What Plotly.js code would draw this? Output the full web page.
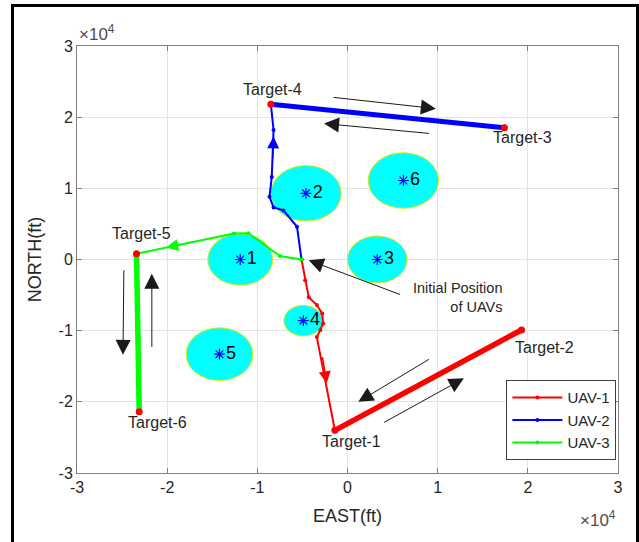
<!DOCTYPE html>
<html>
<head>
<meta charset="utf-8">
<script src="https://cdn.plot.ly/plotly-3.0.1.min.js"></script>
<style>
  html, body { margin: 0; padding: 0; background: #fff; overflow: hidden; }
  #chart { width: 639px; height: 542px; }
  #frame { position: absolute; left: 11px; top: 4px; width: 628px; height: 620px;
           box-sizing: border-box; border: 3px solid #000; pointer-events: none; }
</style>
</head>
<body>
<div id="chart"></div>
<div id="frame"></div>
<script>
// ---- data (units of 10^4 ft) ----
const obstacleLabels = ['1', '2', '3', '4', '5', '6'];
const obstacleX = [-1.19, -0.46, 0.33, -0.49, -1.42, 0.62];
const obstacleY = [0.00, 0.93, 0.00, -0.86, -1.33, 1.11];
const obstacleR = [0.36, 0.39, 0.33, 0.215, 0.37, 0.39];

const targetNames = ['Target-1', 'Target-2', 'Target-3', 'Target-4', 'Target-5', 'Target-6'];
const targetX = [-0.14, 1.93, 1.74, -0.85, -2.34, -2.31];
const targetY = [-2.40, -0.99, 1.85, 2.18, 0.08, -2.14];

// UAV-1 path: start -> Target-1, then Target-1 <-> Target-2
const uav1X = [-0.51, -0.47, -0.43, -0.34, -0.28, -0.27, -0.30, -0.34, -0.14];
const uav1Y = [0.00, -0.29, -0.53, -0.64, -0.76, -0.90, -0.99, -1.09, -2.40];
const uav1TourX = [-0.14, 1.93];
const uav1TourY = [-2.40, -0.99];

// UAV-2 path: start -> Target-4, then Target-4 <-> Target-3
const uav2X = [-0.51, -0.56, -0.71, -0.82, -0.865, -0.84, -0.82, -0.85];
const uav2Y = [0.00, 0.46, 0.69, 0.73, 0.88, 1.16, 1.82, 2.18];
const uav2TourX = [-0.85, 1.74];
const uav2TourY = [2.18, 1.85];

// UAV-3 path: start -> Target-5, then Target-5 <-> Target-6
const uav3X = [-0.51, -0.75, -1.10, -1.26, -2.34];
const uav3Y = [0.00, 0.05, 0.37, 0.365, 0.08];
const uav3TourX = [-2.34, -2.31];
const uav3TourY = [0.08, -2.14];

const tickVals = [-3, -2, -1, 0, 1, 2, 3];

// ---- styles ----
const RED = '#ff0000', BLUE = '#0000ff', GREEN = '#00ff00';
const FONT = 'Liberation Sans, Arial, Helvetica, sans-serif';
const TXT = '#262626';

const traces = [];
function uav(name, color, px, py, tx, ty, tw) {
  traces.push({
    x: px, y: py, type: 'scatter', mode: 'lines+markers', name: name,
    legendgroup: name, line: { color: color, width: 2 },
    marker: { color: color, size: 4 }
  });
  traces.push({
    x: tx, y: ty, type: 'scatter', mode: 'lines+markers', name: name,
    legendgroup: name, showlegend: false,
    line: { color: color, width: tw }, marker: { color: color, size: 6 }
  });
}
uav('UAV-1', RED, uav1X, uav1Y, uav1TourX, uav1TourY, 5.5);
uav('UAV-2', BLUE, uav2X, uav2Y, uav2TourX, uav2TourY, 5);
uav('UAV-3', GREEN, uav3X, uav3Y, uav3TourX, uav3TourY, 5.5);

// obstacle centers + labels
traces.push({
  x: obstacleX, y: obstacleY, type: 'scatter', mode: 'markers+text',
  text: obstacleLabels, textposition: 'middle right', showlegend: false,
  marker: { symbol: 'asterisk-open', color: BLUE, size: 9, line: { color: BLUE, width: 1.2 } },
  textfont: { family: FONT, size: 18, color: '#000' }, hoverinfo: 'skip'
});
// target points
traces.push({
  x: targetX, y: targetY, type: 'scatter', mode: 'markers', showlegend: false,
  marker: { color: RED, size: 7 }, hoverinfo: 'skip'
});

// obstacle circles
const shapes = obstacleX.map((cx, i) => ({
  type: 'circle', xref: 'x', yref: 'y', layer: 'between',
  x0: cx - obstacleR[i], x1: cx + obstacleR[i],
  y0: obstacleY[i] - obstacleR[i], y1: obstacleY[i] + obstacleR[i],
  fillcolor: '#00ffff', line: { color: '#e6e600', width: 1 }
}));

// target label offsets (px)
const labelShift = [[17, -11], [23, -18], [18, -10], [2, 15], [5, 20], [18, -11]];
const annotations = targetNames.map((t, i) => ({
  x: targetX[i], y: targetY[i], xref: 'x', yref: 'y', text: t, showarrow: false,
  xshift: labelShift[i][0], yshift: labelShift[i][1],
  font: { family: FONT, size: 16, color: TXT }
}));

// direction arrows
function arrow(x0, y0, x1, y1, color, size, width, head) {
  annotations.push({
    x: x1, y: y1, ax: x0, ay: y0, xref: 'x', yref: 'y', axref: 'x', ayref: 'y',
    text: '', showarrow: true, arrowhead: head, arrowsize: size, arrowwidth: width,
    arrowcolor: color
  });
}
const AC = '#1a1a1a';
arrow(-0.17, 2.28, 0.98, 2.12, AC, 3, 1, 2);
arrow(0.92, 1.77, -0.26, 1.91, AC, 3, 1, 2);
arrow(0.92, -1.39, 0.12, -2.00, AC, 3, 1, 2);
arrow(0.39, -2.30, 1.29, -1.67, AC, 3, 1, 2);
arrow(-2.48, -0.13, -2.49, -1.34, AC, 3, 1, 2);
arrow(-2.17, -1.25, -2.17, -0.20, AC, 3, 1, 2);
arrow(0.60, -0.50, -0.43, -0.01, AC, 3, 1, 2);
// path direction arrowheads
arrow(-0.28, -1.35, -0.23, -1.74, RED, 1.6, 1.5, 2);
arrow(-0.83, 1.40, -0.82, 1.73, BLUE, 1.6, 1.5, 2);
arrow(-1.70, 0.25, -2.01, 0.167, GREEN, 1.6, 1.5, 2);

annotations.push({
  x: 1.74, y: -0.53, xref: 'x', yref: 'y', xanchor: 'right', align: 'right',
  text: 'Initial Position<br>of UAVs', showarrow: false,
  font: { family: FONT, size: 14.5, color: TXT }
});
annotations.push({
  x: 0.0, y: 1.0, xref: 'paper', yref: 'paper', xanchor: 'left', yanchor: 'bottom',
  text: '×10<sup>4</sup>', showarrow: false, font: { family: FONT, size: 17, color: '#4d4d4d' }
});
annotations.push({
  x: 1.0, y: -0.108, xref: 'paper', yref: 'paper', xanchor: 'right', yanchor: 'middle',
  text: '×10<sup>4</sup>', showarrow: false, font: { family: FONT, size: 17, color: '#4d4d4d' }
});

const axisCommon = {
  range: [-3, 3], tickvals: tickVals, ticktext: tickVals.map(String),
  ticks: 'inside', ticklen: 5, tickcolor: '#808080', showline: true, linecolor: '#808080',
  linewidth: 1, mirror: 'ticks', showgrid: true, gridcolor: '#e3e3e3', zeroline: false,
  tickfont: { family: FONT, size: 16, color: TXT }, fixedrange: true
};

const layout = {
  width: 639, height: 542, paper_bgcolor: '#fff', plot_bgcolor: '#fff',
  margin: { l: 77, r: 21, t: 46, b: 69 },
  xaxis: Object.assign({}, axisCommon, {
    title: { text: 'EAST(ft)', font: { family: FONT, size: 18, color: TXT }, standoff: 14 }
  }),
  yaxis: Object.assign({}, axisCommon, {
    title: { text: 'NORTH(ft)', font: { family: FONT, size: 18, color: TXT }, standoff: 12 }
  }),
  showlegend: true,
  legend: {
    x: 0.997, y: 0.03, xanchor: 'right', yanchor: 'bottom',
    bgcolor: '#fff', bordercolor: '#404040', borderwidth: 1, itemwidth: 50,
    font: { family: FONT, size: 15, color: TXT }, tracegroupgap: 0
  },
  shapes: shapes,
  annotations: annotations
};

Plotly.newPlot('chart', traces, layout, { staticPlot: true, displayModeBar: false });
</script>
</body>
</html>
